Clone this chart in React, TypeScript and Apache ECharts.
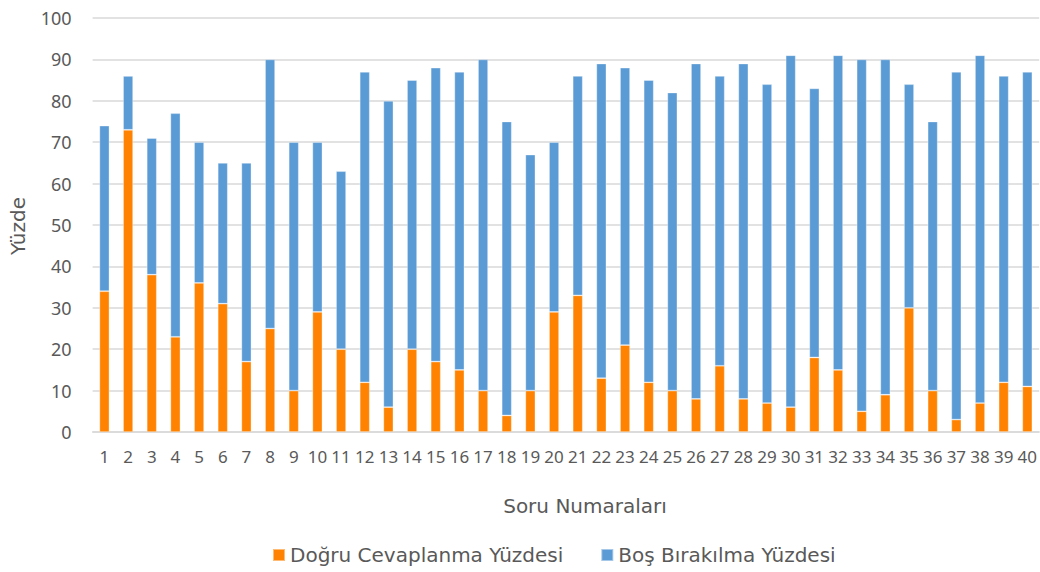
import React, { useEffect, useRef } from "react";
import * as echarts from "echarts";

const categories = Array.from({ length: 40 }, (_, i) => String(i + 1));
const correctPct = [34, 73, 38, 23, 36, 31, 17, 25, 10, 29, 20, 12, 6, 20, 17, 15, 10, 4, 10, 29, 33, 13, 21, 12, 10, 8, 16, 8, 7, 6, 18, 15, 5, 9, 30, 10, 3, 7, 12, 11];
const blankPct = [40, 13, 33, 54, 34, 34, 48, 65, 60, 41, 43, 75, 74, 65, 71, 72, 80, 71, 57, 41, 53, 76, 67, 73, 72, 81, 70, 81, 77, 85, 65, 76, 85, 81, 54, 65, 84, 84, 74, 76];
const yTicks = { min: 0, max: 100, interval: 10 };

const FONT = "'Noto Sans', sans-serif";
const WIDE = "'DejaVu Sans', sans-serif";
const TEXT = "#595959";

export default function App() {
  const ref = useRef<HTMLDivElement>(null);
  useEffect(() => {
    if (!ref.current) return;
    const chart = echarts.init(ref.current, null, { renderer: "svg" });
    chart.setOption({
      animation: false,
      textStyle: { fontFamily: FONT },
      grid: { left: 92.6, right: -4, top: 18, bottom: 140, containLabel: false },
      xAxis: {
        type: "category",
        data: categories,
        axisLine: { lineStyle: { color: "#d9d9d9", width: 1.5 } },
        axisTick: { show: false },
        axisLabel: { color: TEXT, fontSize: 17, margin: 16, fontFamily: FONT, interval: 0 },
      },
      yAxis: {
        type: "value",
        min: yTicks.min,
        max: yTicks.max,
        interval: yTicks.interval,
        axisLine: { show: false },
        axisTick: { show: false },
        axisLabel: { color: TEXT, fontSize: 18, margin: 21, fontFamily: FONT },
        splitLine: { lineStyle: { color: "#d9d9d9", width: 1.5 } },
      },
      legend: {
        left: 272,
        top: 545,
        itemWidth: 12,
        itemHeight: 12,
        itemGap: 37,
        icon: "rect",
        padding: 0,
        textStyle: { color: TEXT, fontSize: 20, fontFamily: WIDE },
        data: ["Doğru Cevaplanma Yüzdesi", "Boş Bırakılma Yüzdesi"],
      },
      graphic: [
        {
          type: "text",
          x: 18,
          y: 226,
          rotation: Math.PI / 2,
          style: { text: "Yüzde", fill: TEXT, font: `20px ${WIDE}`, align: "center", verticalAlign: "middle" },
        },
        {
          type: "text",
          x: 585,
          y: 506,
          style: { text: "Soru Numaraları", fill: TEXT, font: `20px ${WIDE}`, align: "center", verticalAlign: "middle" },
        },
      ],
      series: [
        {
          name: "Doğru Cevaplanma Yüzdesi",
          type: "bar",
          stack: "total",
          data: correctPct,
          barWidth: 10,
          itemStyle: { color: "#FF8300", borderColor: "rgba(255,255,255,0.45)", borderWidth: 0.75 },
        },
        {
          name: "Boş Bırakılma Yüzdesi",
          type: "bar",
          stack: "total",
          data: blankPct,
          barWidth: 10,
          itemStyle: { color: "#5B9BD5", borderColor: "rgba(255,255,255,0.45)", borderWidth: 0.75 },
        },
      ],
    });
    return () => chart.dispose();
  }, []);
  return (
    <div
      ref={ref}
      style={{ position: "absolute", left: 0, top: 0, width: 1040, height: 572, background: "#fff" }}
    />
  );
}
